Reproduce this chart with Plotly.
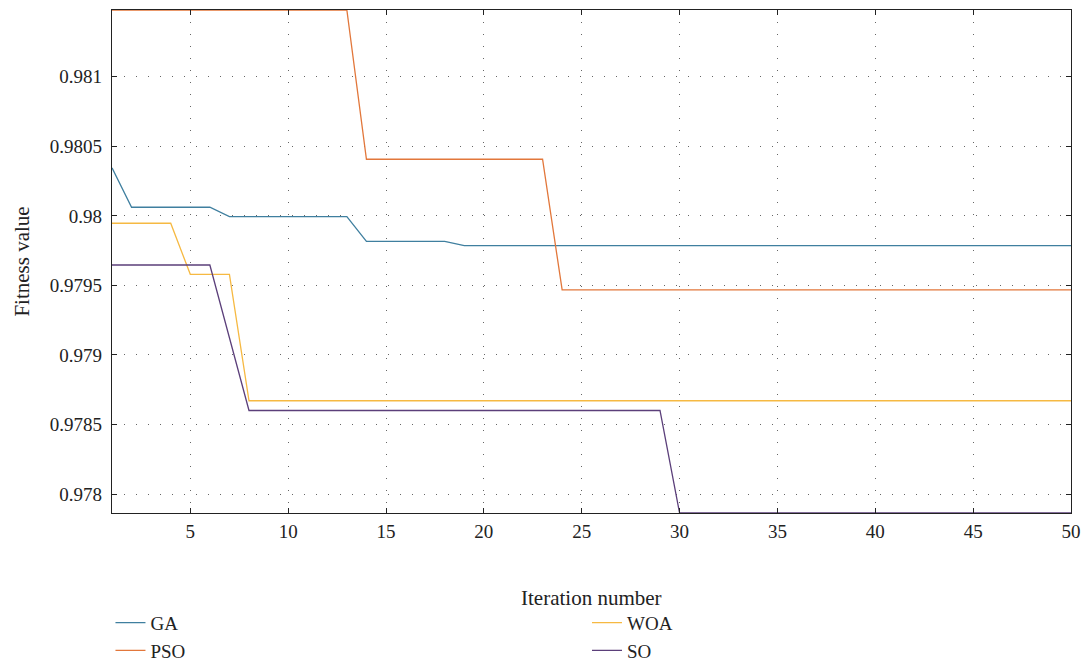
import plotly.graph_objects as go

iterations = list(range(1, 51))

ga = [0.980345] + [0.980062] * 5 + [0.979995] * 7 + [0.979817] * 5 + [0.979786] * 32
pso = [0.98148] * 13 + [0.980407] * 10 + [0.979468] * 27
woa = [0.979947] * 4 + [0.97958] * 3 + [0.978671] * 43
so = [0.979647] * 6 + [0.979124] + [0.978601] * 22 + [0.977864] * 21

series_names = ["GA", "PSO", "WOA", "SO"]
series_values = [ga, pso, woa, so]
colors = ["#3f7f9f", "#e2773b", "#f6b942", "#5b3f7a"]
legend_ids = ["legend", "legend", "legend2", "legend2"]

y_ticks = [0.978, 0.9785, 0.979, 0.9795, 0.98, 0.9805, 0.981]
y_tick_labels = ["0.978", "0.9785", "0.979", "0.9795", "0.98", "0.9805", "0.981"]
x_ticks = [5, 10, 15, 20, 25, 30, 35, 40, 45, 50]

font_family = "Liberation Serif"

fig = go.Figure()
for name, vals, col, lg in zip(series_names, series_values, colors, legend_ids):
    fig.add_trace(go.Scatter(
        x=iterations, y=vals, mode="lines", name=name,
        line=dict(color=col, width=1.3), legend=lg,
    ))

axis_common = dict(
    showline=True, linecolor="#222222", linewidth=1.2, mirror="allticks",
    ticks="inside", ticklen=5, tickcolor="#222222", tickwidth=1.2,
    showgrid=True, gridcolor="#666666", gridwidth=1, griddash="1px,11px",
    zeroline=False, automargin=False,
    tickfont=dict(family=font_family, size=19, color="#222222"),
)

fig.update_layout(
    width=1083, height=662,
    margin=dict(l=112, r=12, t=10, b=149),
    paper_bgcolor="white", plot_bgcolor="white",
    font=dict(family=font_family, size=19, color="#222222"),
    xaxis=dict(
        range=[1, 50], tickvals=x_ticks, ticklabelstandoff=1,
        **axis_common,
    ),
    yaxis=dict(
        range=[min(so), max(pso)], tickvals=y_ticks, ticktext=y_tick_labels,
        ticklabelstandoff=5,
        title=dict(text="Fitness value", font=dict(family=font_family, size=21), standoff=14),
        **axis_common,
    ),
    legend=dict(
        xref="paper", x=-0.0016, xanchor="left",
        yref="container", y=0.088, yanchor="top", orientation="v",
        font=dict(family=font_family, size=19), tracegroupgap=0,
        bgcolor="rgba(0,0,0,0)",
    ),
    legend2=dict(
        xref="paper", x=0.4953, xanchor="left",
        yref="container", y=0.088, yanchor="top", orientation="v",
        font=dict(family=font_family, size=19), tracegroupgap=0,
        bgcolor="rgba(0,0,0,0)",
    ),
    annotations=[dict(
        text="Iteration number", xref="paper", yref="paper",
        x=0.5, y=-0.169, xanchor="center", yanchor="middle",
        showarrow=False, font=dict(family=font_family, size=21, color="#222222"),
    )],
)

fig.write_html(
    "out.html",
    config={"displayModeBar": False},
    post_script="document.body.style.margin='0';document.body.style.padding='0';",
)
